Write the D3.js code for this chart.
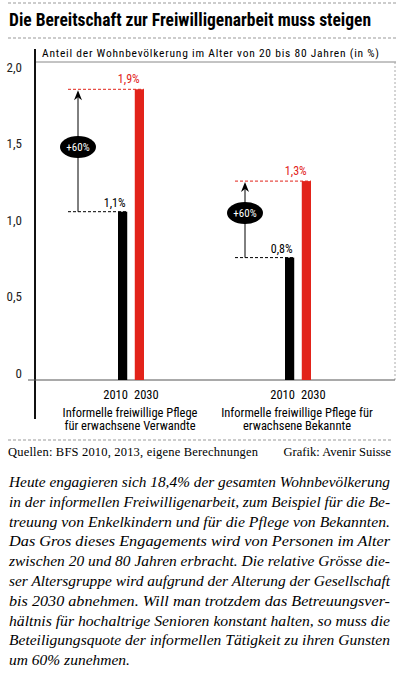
<!DOCTYPE html>
<html><head><meta charset="utf-8">
<script src="https://cdn.jsdelivr.net/npm/d3@7"></script>
<style>body{margin:0;background:#fff}</style></head>
<body><svg id="c" width="400" height="676"></svg>
<script>
const groups = ["Verwandte","Bekannte"];
const groupLabels = [["Informelle freiwillige Pflege","für erwachsene Verwandte"],["Informelle freiwillige Pflege für","erwachsene Bekannte"]];
const years = ["2010","2030"];
const values2010 = [1.1, 0.8];
const values2030 = [1.9, 1.3];
const labels2010 = ["1,1%","0,8%"];
const labels2030 = ["1,9%","1,3%"];
const increase = ["+60%","+60%"];
const yTicks = [0,0.5,1.0,1.5,2.0];
const yTickLabels = ["0","0,5","1,0","1,5","2,0"];
const paragraph = [
"Heute engagieren sich 18,4% der gesamten Wohnbevölkerung",
"in der informellen Freiwilligenarbeit, zum Beispiel für die Be-",
"treuung von Enkelkindern und für die Pflege von Bekannten.",
"Das Gros dieses Engagements wird von Personen im Alter",
"zwischen 20 und 80 Jahren erbracht. Die relative Grösse die-",
"ser Altersgruppe wird aufgrund der Alterung der Gesellschaft",
"bis 2030 abnehmen. Will man trotzdem das Betreuungsver-",
"hältnis für hochaltrige Senioren konstant halten, so muss die",
"Beteiligungsquote der informellen Tätigkeit zu ihren Gunsten",
"um 60% zunehmen."];

const svg = d3.select("#c");
const cond = "'Roboto Condensed','Liberation Sans Narrow','DejaVu Sans Condensed',Roboto,sans-serif";
const y = d3.scaleLinear().domain([0,2]).range([380,74]);
const groupScale = d3.scaleBand().domain(groups).range([36,396]);
const centers = [131, 298];

svg.append("line").attr("x1",8).attr("x2",396).attr("y1",3).attr("y2",3).attr("stroke","#999").attr("stroke-dasharray","3,2");
svg.append("line").attr("x1",8).attr("x2",396).attr("y1",38).attr("y2",38).attr("stroke","#999").attr("stroke-dasharray","3,2");
svg.append("text").attr("x",9).attr("y",26).attr("font-family",cond).attr("font-weight","bold").attr("font-size",17.5).attr("textLength",362).text("Die Bereitschaft zur Freiwilligenarbeit muss steigen");
svg.append("text").attr("x",42).attr("y",57).attr("font-family",cond).attr("font-size",11.5).attr("textLength",337).text("Anteil der Wohnbevölkerung im Alter von 20 bis 80 Jahren (in %)");
svg.append("line").attr("x1",35).attr("x2",396).attr("y1",62).attr("y2",62).attr("stroke","#888");
svg.append("line").attr("x1",395).attr("x2",395).attr("y1",62).attr("y2",380).attr("stroke","#aaa").attr("stroke-dasharray","2,2");

const ax = svg.append("g").attr("transform","translate(28,0)").call(d3.axisLeft(y).tickValues(yTicks).tickFormat((d,i)=>yTickLabels[i]).tickSize(0).tickPadding(6));
ax.select(".domain").remove();
ax.selectAll("text").attr("font-family",cond).attr("font-size",13).attr("fill","#222").attr("dy","-0.2em");
svg.append("line").attr("x1",35).attr("x2",35).attr("y1",49).attr("y2",419).attr("stroke","#111").attr("stroke-width",2);
svg.append("line").attr("x1",28).attr("x2",395).attr("y1",y(0)).attr("y2",y(0)).attr("stroke","#555");

groups.forEach((g,i)=>{
  const c = centers[i];
  const bx = d3.scaleBand().domain(years).range([c-13,c+13]).paddingInner(0.45);
  const arrowX = i===0 ? 78 : 245;
  svg.append("rect").attr("x",bx("2010")).attr("width",bx.bandwidth()).attr("y",y(values2010[i])).attr("height",y(0)-y(values2010[i])).attr("fill","#000");
  svg.append("rect").attr("x",bx("2030")).attr("width",bx.bandwidth()).attr("y",y(values2030[i])).attr("height",y(0)-y(values2030[i])).attr("fill","#e2231a");
  svg.append("line").attr("x1",arrowX-10).attr("x2",bx("2010")+bx.bandwidth()).attr("y1",y(values2010[i])).attr("y2",y(values2010[i])).attr("stroke","#000").attr("stroke-dasharray","3,2");
  svg.append("line").attr("x1",arrowX-10).attr("x2",bx("2030")+bx.bandwidth()).attr("y1",y(values2030[i])).attr("y2",y(values2030[i])).attr("stroke","#e2231a").attr("stroke-dasharray","3,2");
  svg.append("line").attr("x1",arrowX).attr("x2",arrowX).attr("y1",y(values2010[i])).attr("y2",y(values2030[i])+8).attr("stroke","#000");
  const ty = y(values2030[i]);
  svg.append("path").attr("d",`M${arrowX},${ty+1} L${arrowX-4},${ty+11} L${arrowX},${ty+8} L${arrowX+4},${ty+11}Z`).attr("fill","#000");
  const ey = i===0 ? 147 : 213;
  svg.append("ellipse").attr("cx",arrowX).attr("cy",ey).attr("rx",18).attr("ry",11).attr("fill","#000");
  svg.append("text").attr("x",arrowX).attr("y",ey+4).attr("text-anchor","middle").attr("fill","#fff").attr("font-family",cond).attr("font-size",11).text(increase[i]);
  svg.append("text").attr("x",bx("2010")+bx.bandwidth()/2-8).attr("y",y(values2010[i])-5).attr("text-anchor","middle").attr("font-family",cond).attr("font-size",12).text(labels2010[i]);
  svg.append("text").attr("x",bx("2030")-6).attr("y",y(values2030[i])-6).attr("text-anchor","middle").attr("fill","#e2231a").attr("font-family",cond).attr("font-size",12).text(labels2030[i]);
  years.forEach((yr,j)=>svg.append("text").attr("x",bx(yr)+bx.bandwidth()/2+(j===0?-7:7)).attr("y",399).attr("text-anchor","middle").attr("font-family",cond).attr("font-size",12.5).text(yr));
  groupLabels[i].forEach((t,k)=>svg.append("text").attr("x",c-1).attr("y",417+k*13).attr("text-anchor","middle").attr("font-family",cond).attr("font-size",12.5).text(t));
});

svg.append("line").attr("x1",8).attr("x2",392).attr("y1",440).attr("y2",440).attr("stroke","#999").attr("stroke-dasharray","3,2");
svg.append("text").attr("x",8).attr("y",456).attr("font-family","'Liberation Serif',serif").attr("font-size",12.5).attr("textLength",250).text("Quellen: BFS 2010, 2013, eigene Berechnungen");
svg.append("text").attr("x",391).attr("y",456).attr("text-anchor","end").attr("font-family","'Liberation Serif',serif").attr("font-size",12.5).text("Grafik: Avenir Suisse");

paragraph.forEach((t,i)=>{
  const el = svg.append("text").attr("x",9).attr("y",487+i*19.8).attr("font-family","'Liberation Serif',serif").attr("font-style","italic").attr("font-size",15.5).text(t);
  if(i<paragraph.length-1) el.attr("textLength",381).attr("lengthAdjust","spacingAndGlyphs");
});
</script></body></html>
